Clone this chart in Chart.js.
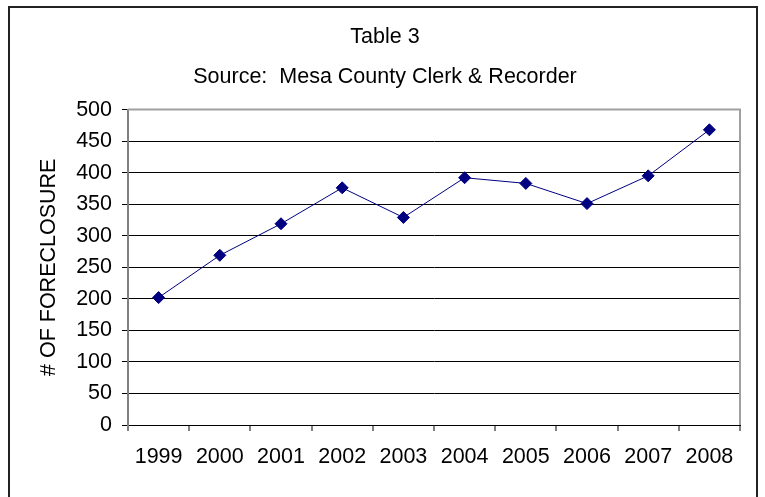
<!DOCTYPE html>
<html>
<head>
<meta charset="utf-8">
<script src="https://cdn.jsdelivr.net/npm/chart.js@4"></script>
<style>
  body { margin: 0; background: #fff; }
  #wrap { width: 765px; height: 497px; position: relative; }
</style>
</head>
<body>
<div id="wrap"><canvas id="chart"></canvas></div>
<script>
// data
const years = ['1999', '2000', '2001', '2002', '2003', '2004', '2005', '2006', '2007', '2008'];
const foreclosures = [202, 269, 319, 376, 329, 392, 383, 351, 395, 468];
const titleText = 'Table 3';
const subtitleText = 'Source:  Mesa County Clerk & Recorder';
const yTitle = '# OF FORECLOSURE';

const FONT = 'Liberation Sans, Arial, sans-serif';
const SIZE = 21.5;

// outer box + grey plot frame like the excel chart
const frame = {
    id: 'frame',
    beforeDraw(c) {
        const ctx = c.ctx;
        ctx.save();
        ctx.fillStyle = '#fff';
        ctx.fillRect(0, 0, c.width, c.height);
        ctx.strokeStyle = '#222';
        ctx.lineWidth = 2;
        ctx.strokeRect(9, 7, 748, 500);
        ctx.restore();
    },
    afterDatasetsDraw(c) {
        const a = c.chartArea, ctx = c.ctx;
        ctx.save();
        ctx.strokeStyle = '#a0a0a0';
        ctx.lineWidth = 2;
        ctx.beginPath();
        ctx.moveTo(a.left, a.top);
        ctx.lineTo(a.right, a.top);
        ctx.lineTo(a.right, a.bottom);
        ctx.stroke();
        ctx.restore();
    }
};

const chart = new Chart(document.querySelector('#chart'), {
    type: 'line',
    data: {
        labels: years,
        datasets: [{
            data: foreclosures,
            borderColor: '#000080',
            borderWidth: 1,
            pointStyle: 'rectRot',
            pointRadius: 6,
            pointHoverRadius: 6,
            pointBackgroundColor: '#000080',
            pointBorderColor: '#000080',
            tension: 0
        }]
    },
    options: {
        responsive: true,
        maintainAspectRatio: false,
        animation: false,
        layout: { padding: { left: 30, right: 25, top: 0, bottom: 0 } },
        plugins: {
            legend: { display: false },
            tooltip: { enabled: false },
            title: {
                display: true, text: titleText, color: '#000',
                font: { family: FONT, size: SIZE, weight: 'normal' },
                padding: { top: 24, bottom: 14 }
            },
            subtitle: {
                display: true, text: subtitleText, color: '#000',
                font: { family: FONT, size: SIZE, weight: 'normal' },
                padding: { top: 0, bottom: 20 }
            }
        },
        scales: {
            x: {
                offset: true,
                grid: { offset: true, drawOnChartArea: false, drawTicks: true, tickLength: 6, color: '#808080', lineWidth: 2 },
                border: { color: '#000', width: 1 },
                ticks: { color: '#000', font: { family: FONT, size: SIZE }, padding: 13, maxRotation: 0 },
                afterFit(s) { s.height = 72; }
            },
            y: {
                min: 0, max: 500,
                ticks: { stepSize: 50, color: '#000', font: { family: FONT, size: SIZE }, padding: 10 },
                grid: { color: '#000', lineWidth: 1, tickLength: 6 },
                border: { color: '#808080', width: 2 },
                title: {
                    display: true, text: yTitle, color: '#000',
                    font: { family: FONT, size: SIZE }, padding: { top: 6, bottom: 0 }
                },
                afterFit(s) { s.width = 98; }
            }
        }
    },
    plugins: [frame]
});
</script>
</body>
</html>
